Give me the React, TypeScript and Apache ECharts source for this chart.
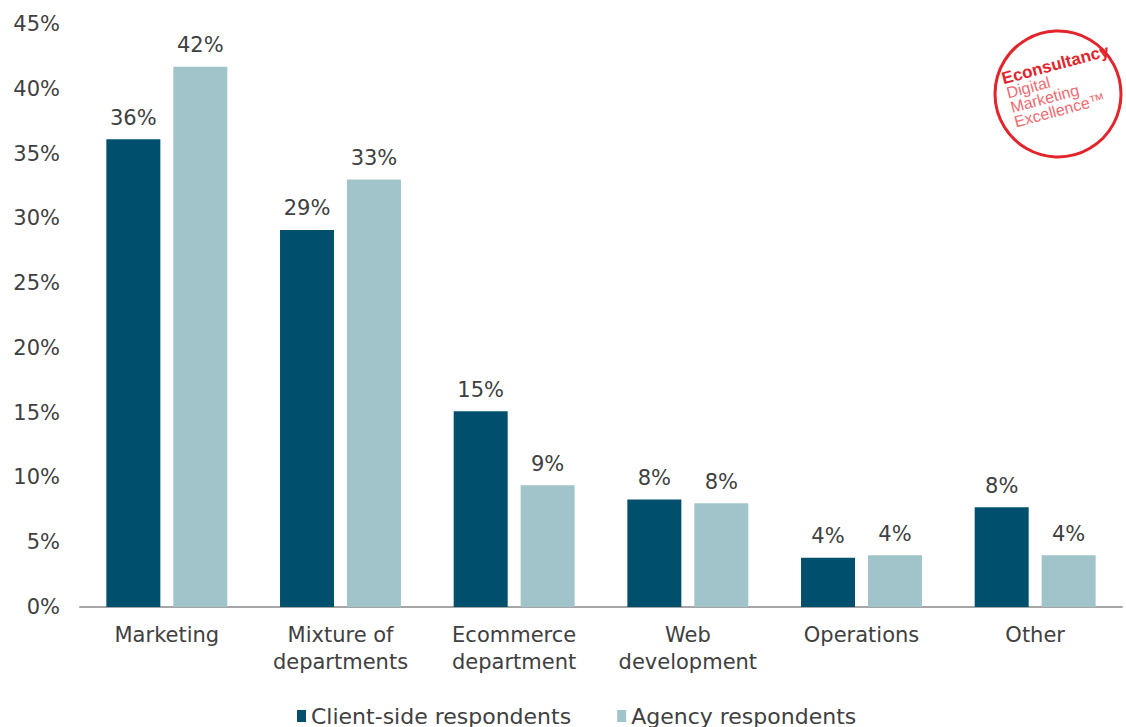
import React, { useEffect, useRef } from "react";
import * as echarts from "echarts";

const categories = [
  "Marketing",
  "Mixture of\ndepartments",
  "Ecommerce\ndepartment",
  "Web\ndevelopment",
  "Operations",
  "Other",
];
const clientSide = [36.1, 29.1, 15.1, 8.3, 3.8, 7.7];
const agency = [41.7, 33.0, 9.4, 8.0, 4.0, 4.0];
const seriesNames = ["Client-side respondents", "Agency respondents"];
const yTicks = { min: 0, max: 45, interval: 5 };

const DARK = "#004f6d";
const LIGHT = "#a1c4ca";
const TEXT = "#404040";
const FONT = "DejaVu Sans, Liberation Sans, Arial, sans-serif";
const LOGO_FONT = "Liberation Sans, Arial, sans-serif";

export default function App() {
  const ref = useRef<HTMLDivElement>(null);
  useEffect(() => {
    if (!ref.current) return;
    const chart = echarts.init(ref.current, null, { renderer: "svg" });
    const label = {
      show: true,
      position: "top" as const,
      distance: 11,
      fontSize: 21,
      fontFamily: FONT,
      color: TEXT,
      formatter: (p: any) => Math.round(p.value) + "%",
    };
    const subText = (text: string, y: number) => ({
      type: "text",
      x: 1,
      y,
      style: {
        text,
        fontSize: 16,
        fill: "#ef6b72",
        fontFamily: LOGO_FONT,
        textVerticalAlign: "middle",
      },
    });
    chart.setOption({
      animation: false,
      backgroundColor: "#ffffff",
      textStyle: { fontFamily: FONT },
      grid: { left: 80, right: 4, top: 24, bottom: 120, containLabel: false },
      legend: {
        data: seriesNames,
        left: 292,
        top: 700,
        icon: "rect",
        itemWidth: 9,
        itemHeight: 12,
        itemGap: 46,
        textStyle: { fontSize: 22, color: TEXT, fontFamily: FONT },
      },
      xAxis: {
        type: "category",
        data: categories,
        axisLine: { lineStyle: { color: "#a6a6a6", width: 2 } },
        axisTick: { show: false },
        axisLabel: {
          fontSize: 21,
          lineHeight: 27,
          color: TEXT,
          margin: 14,
          fontFamily: FONT,
          interval: 0,
        },
      },
      yAxis: {
        type: "value",
        min: yTicks.min,
        max: yTicks.max,
        interval: yTicks.interval,
        splitLine: { show: false },
        axisLine: { show: false },
        axisTick: { show: false },
        axisLabel: {
          formatter: "{value}%",
          fontSize: 21,
          color: TEXT,
          margin: 20,
          fontFamily: FONT,
        },
      },
      series: [
        {
          name: seriesNames[0],
          type: "bar",
          data: clientSide,
          barWidth: 54,
          barGap: "24%",
          itemStyle: { color: DARK },
          label,
        },
        {
          name: seriesNames[1],
          type: "bar",
          data: agency,
          barWidth: 54,
          barGap: "24%",
          itemStyle: { color: LIGHT },
          label,
        },
      ],
      graphic: [
        {
          type: "circle",
          shape: { cx: 1058, cy: 94, r: 63 },
          style: { fill: "none", stroke: "#e3242b", lineWidth: 3 },
        },
        {
          type: "group",
          x: 1002,
          y: 79,
          rotation: (15 * Math.PI) / 180,
          children: [
            {
              type: "text",
              x: 0,
              y: 0,
              style: {
                text: "Econsultancy",
                fontSize: 17,
                fontWeight: "bold",
                fill: "#e3242b",
                fontFamily: LOGO_FONT,
                textVerticalAlign: "middle",
              },
            },
            subText("Digital", 15),
            subText("Marketing", 30),
            subText("Excellence\u2122", 45),
          ],
        },
      ],
    });
    return () => chart.dispose();
  }, []);
  return (
    <div
      ref={ref}
      style={{ position: "fixed", left: 0, top: 0, width: 1126, height: 727 }}
    />
  );
}
